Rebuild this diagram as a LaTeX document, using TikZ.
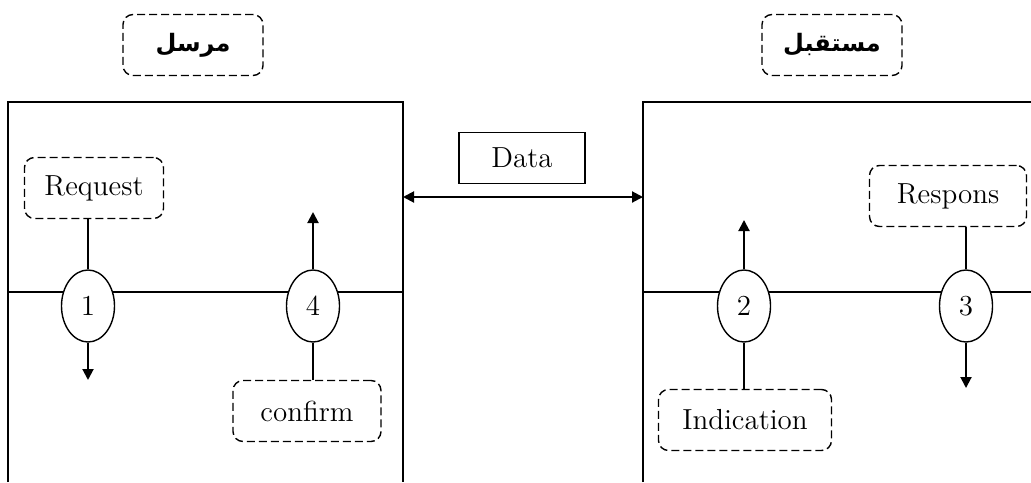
\documentclass[tikz,border=0pt]{standalone}
\usepackage{fontspec}
\newfontfamily\arabicfont[Script=Arabic]{DejaVu Sans}
\TeXXeTstate=1
\usetikzlibrary{arrows.meta,shapes.geometric}

\begin{document}
\begin{tikzpicture}[x=0.5pt,y=-0.5pt,
    font=\fontsize{14.5}{17}\selectfont,
    frame/.style={line width=0.6pt},
    tag/.style={draw, line width=0.7pt, dash pattern=on 4pt off 2pt,
        rounded corners=5pt, minimum height=30.5pt, inner sep=2pt},
    stage/.style={draw, ellipse, fill=white, line width=0.7pt,
        minimum width=26.5pt, minimum height=36pt, inner sep=0pt},
    flow/.style={line width=1pt, -{Triangle[length=5.5pt,width=5.5pt]}},
    link/.style={line width=0.8pt}]
    \useasboundingbox (0,0) rectangle (1031,482);

    % sender and receiver frames
    \draw[frame] (8,482) -- (8,102) -- (403,102) -- (403,482);
    \draw[frame] (8,292) -- (403,292);
    \draw[frame] (643,482) -- (643,102) -- (1031,102);
    \draw[frame] (643,292) -- (1031,292);

    % titles
    \node[tag, minimum width=70pt, font=\arabicfont\bfseries\fontsize{12}{14}\selectfont] (snd) at (193,45) {\beginR مرسل\endR};
    \node[tag, minimum width=70pt, font=\arabicfont\bfseries\fontsize{12}{14}\selectfont] (rcv) at (832,45) {\beginR مستقبل\endR};

    % data exchange
    \node[draw, frame, minimum width=63pt, minimum height=25.5pt] (data) at (522,158) {Data};
    \coordinate (sndedge) at (403,197);
    \coordinate (rcvedge) at (643,197);
    \draw[line width=1pt, {Triangle[length=5.5pt,width=5.5pt]}-{Triangle[length=5.5pt,width=5.5pt]}] (sndedge) -- (rcvedge);

    % primitives
    \node[stage] (s1) at (88,306) {1};
    \node[stage] (s4) at (313,306) {4};
    \node[stage] (s2) at (744,306) {2};
    \node[stage] (s3) at (966,306) {3};

    \node[tag, minimum width=69.5pt] (req) at (94,188) {Request};
    \node[tag, minimum width=74pt] (cnf) at (307,411) {confirm};
    \node[tag, minimum width=86.5pt] (ind) at (745,420) {Indication};
    \node[tag, minimum width=78.5pt] (rsp) at (948,196) {Respons};

    \coordinate (s1out) at (88,380);
    \coordinate (s4out) at (313,212);
    \coordinate (s2out) at (744,220);
    \coordinate (s3out) at (966,388);

    \draw[link] (req.south -| s1) -- (s1.north);
    \draw[flow] (s1.south) -- (s1out);
    \draw[link] (cnf.north -| s4) -- (s4.south);
    \draw[flow] (s4.north) -- (s4out);
    \draw[link] (ind.north -| s2) -- (s2.south);
    \draw[flow] (s2.north) -- (s2out);
    \draw[link] (rsp.south -| s3) -- (s3.north);
    \draw[flow] (s3.south) -- (s3out);
\end{tikzpicture}
\end{document}
